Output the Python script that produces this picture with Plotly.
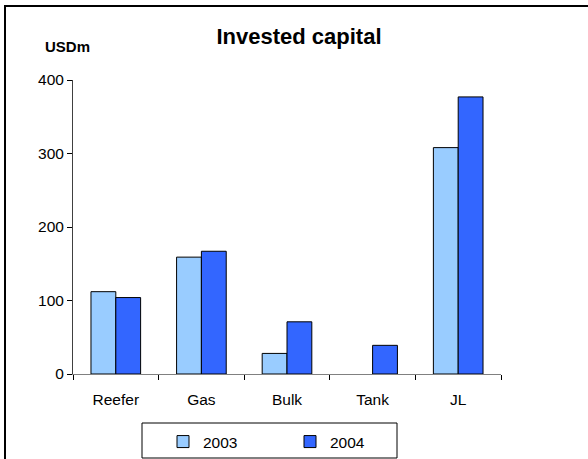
import plotly.graph_objects as go

categories = ["Reefer", "Gas", "Bulk", "Tank", "JL"]
values_2003 = [112, 159, 28, None, 308]
values_2004 = [104, 167, 71, 39, 377]
series_names = ["2003", "2004"]
y_ticks = [0, 100, 200, 300, 400]

FONT = "Liberation Sans, Arial, sans-serif"

# plot area in pixels (588 x 459 page)
L, R, T, B = 73, 501, 80, 374
W, H = 588, 459


def px_x(px):
    return (px - L) / (R - L)


def px_y(py):
    return (B - py) / (B - T)


fig = go.Figure()
fig.add_trace(go.Bar(
    x=categories, y=values_2003, name=series_names[0],
    marker=dict(color="#99CCFF", line=dict(color="#000000", width=1)),
))
fig.add_trace(go.Bar(
    x=categories, y=values_2004, name=series_names[1],
    marker=dict(color="#3366FF", line=dict(color="#000000", width=1)),
))

fig.update_layout(
    width=W, height=H,
    margin=dict(l=L, r=W - R, t=T, b=H - B, autoexpand=False),
    paper_bgcolor="white", plot_bgcolor="white",
    barmode="group", bargap=0.42, bargroupgap=0,
    font=dict(family=FONT, size=15.5, color="#000000"),
    title=dict(text="<b>Invested capital</b>", x=px_x(299), xref="paper",
               y=1 - 36 / H, yref="container", xanchor="center", yanchor="middle",
               font=dict(size=22, family=FONT)),
    xaxis=dict(
        showline=True, linecolor="#808080", linewidth=1, automargin=False,
        ticks="outside", tickson="boundaries", ticklen=5, tickcolor="#000000",
        showgrid=False, tickfont=dict(size=15.5), ticklabelstandoff=11,
    ),
    yaxis=dict(
        range=[0, 400], tickvals=y_ticks, showline=True, linecolor="#404040",
        linewidth=1, ticks="outside", ticklen=5, tickcolor="#000000",
        showgrid=False, zeroline=False, tickfont=dict(size=15.5), automargin=False,
    ),
    legend=dict(
        orientation="h", x=163 / W, y=1 - 425 / H, xref="container", yref="container",
        xanchor="left", yanchor="top",
        bgcolor="rgba(0,0,0,0)", borderwidth=0, font=dict(size=15.5),
        entrywidth=82, entrywidthmode="pixels",
        traceorder="normal",
    ),
    annotations=[dict(
        text="<b>USDm</b>", x=px_x(67), y=px_y(46), xref="paper", yref="paper",
        showarrow=False, xanchor="center", yanchor="middle", font=dict(size=15),
    )],
    shapes=[
        # outer chart frame: left and top edges (the rest runs off the page)
        dict(type="line", xref="paper", yref="paper",
             x0=px_x(5), x1=px_x(5), y0=px_y(H), y1=px_y(6),
             line=dict(color="#000000", width=2)),
        dict(type="line", xref="paper", yref="paper",
             x0=px_x(4), x1=px_x(W), y0=px_y(6), y1=px_y(6),
             line=dict(color="#000000", width=2)),
        # legend box
        dict(type="rect", xref="paper", yref="paper",
             x0=px_x(142), x1=px_x(397), y0=px_y(458), y1=px_y(423),
             line=dict(color="#000000", width=1), fillcolor="rgba(0,0,0,0)"),
    ],
)

fig.write_html("out.html")
